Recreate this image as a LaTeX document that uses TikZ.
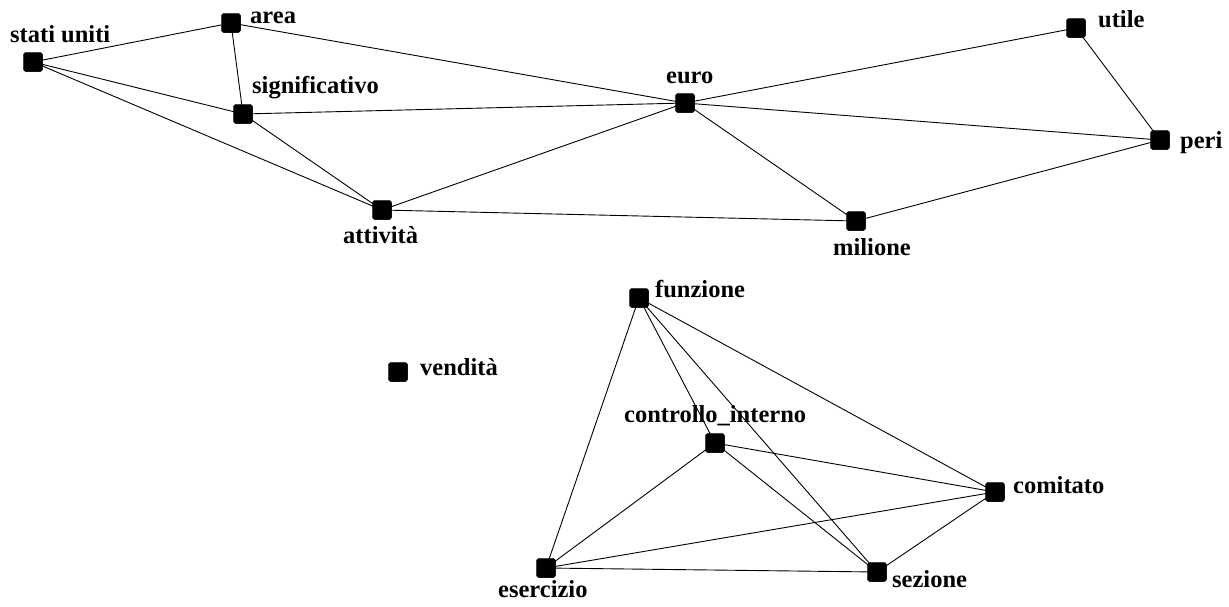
\documentclass[tikz,border=0pt]{standalone}
\usepackage{fontspec}
\setmainfont{Liberation Serif}
\begin{document}
\begin{tikzpicture}[x=1pt,y=-1pt,
  vtx/.style={fill=black,draw=black,rounded corners=2.5pt,minimum size=19pt,inner sep=0pt,outer sep=0pt},
  lbl/.style={anchor=base west,inner sep=0pt,font=\fontsize{24.5}{26}\selectfont\bfseries},
  edge/.style={draw=black,line width=0.9pt}]
\useasboundingbox (0,0) rectangle (1229,606);
\fill[white] (0,0) rectangle (1229,606);
% vertices
\node[vtx] (su) at (33,62) {};
\node[vtx] (ar) at (231,23) {};
\node[vtx] (si) at (243,114) {};
\node[vtx] (eu) at (685,103) {};
\node[vtx] (ut) at (1076,28) {};
\node[vtx] (pe) at (1160,140) {};
\node[vtx] (at) at (382,210) {};
\node[vtx] (mi) at (856,221) {};
\node[vtx] (fu) at (639,298) {};
\node[vtx] (ve) at (398,372) {};
\node[vtx] (ci) at (715,443) {};
\node[vtx] (co) at (995,492) {};
\node[vtx] (es) at (546,568) {};
\node[vtx] (se) at (877,572) {};
% labels
\node[lbl] (lsu) at (10,42) {stati uniti};
\node[lbl] (lar) at (250,23) {area};
\node[lbl] (lsi) at (252,93) {significativo};
\node[lbl] (leu) at (666,83) {euro};
\node[lbl] (lut) at (1098,27) {utile};
\node[lbl] (lpe) at (1180,148) {peri};
\node[lbl] (lat) at (343,243) {attività};
\node[lbl] (lmi) at (833,255) {milione};
\node[lbl] (lfu) at (655,297) {funzione};
\node[lbl] (lve) at (420,375) {vendità};
\node[lbl] (lci) at (624,422) {controllo\_interno};
\node[lbl] (lco) at (1013,493) {comitato};
\node[lbl] (les) at (498,597) {esercizio};
\node[lbl] (lse) at (892,587) {sezione};
% edges
\draw[edge] (su.center) -- (ar.center);
\draw[edge] (su.center) -- (si.center);
\draw[edge] (su.center) -- (at.center);
\draw[edge] (ar.center) -- (si.center);
\draw[edge] (ar.center) -- (eu.center);
\draw[edge] (si.center) -- (eu.center);
\draw[edge] (si.center) -- (at.center);
\draw[edge] (at.center) -- (eu.center);
\draw[edge] (at.center) -- (mi.center);
\draw[edge] (eu.center) -- (ut.center);
\draw[edge] (eu.center) -- (pe.center);
\draw[edge] (eu.center) -- (mi.center);
\draw[edge] (ut.center) -- (pe.center);
\draw[edge] (mi.center) -- (pe.center);
\draw[edge] (fu.center) -- (es.center);
\draw[edge] (fu.center) -- (ci.center);
\draw[edge] (fu.center) -- (se.center);
\draw[edge] (fu.center) -- (co.center);
\draw[edge] (ci.center) -- (es.center);
\draw[edge] (ci.center) -- (se.center);
\draw[edge] (ci.center) -- (co.center);
\draw[edge] (es.center) -- (co.center);
\draw[edge] (es.center) -- (se.center);
\draw[edge] (se.center) -- (co.center);
% redraw squares on top of the connectors
\foreach \n in {su,ar,si,eu,ut,pe,at,mi,fu,ve,ci,co,es,se}
  \fill[rounded corners=2.5pt] ([xshift=-9.5pt,yshift=9.5pt]\n.center) rectangle ([xshift=9.5pt,yshift=-9.5pt]\n.center);
\end{tikzpicture}
\end{document}
